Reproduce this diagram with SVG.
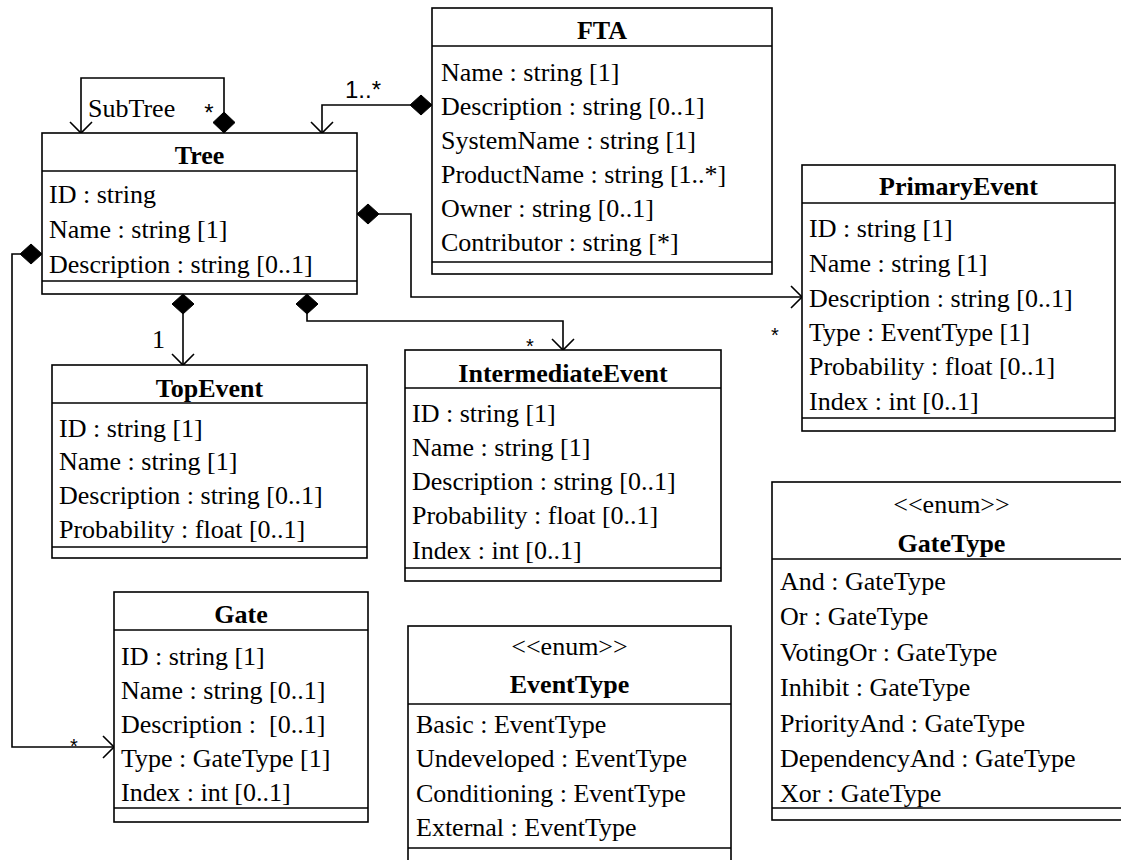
<svg xmlns="http://www.w3.org/2000/svg" width="1121" height="860" viewBox="0 0 1121 860">
<style>
.box{fill:#fff;stroke:#000;stroke-width:1.6}
.sep{stroke:#000;stroke-width:1.6}
.t{font-family:"Liberation Serif","Times New Roman",serif;font-size:26px;fill:#000}
.b{font-weight:bold;text-anchor:middle}
.m{text-anchor:middle}
.s{font-family:"Liberation Sans",Arial,sans-serif;fill:#000}
.ln{fill:none;stroke:#000;stroke-width:1.6}
.dia{fill:#000;stroke:#000;stroke-width:1}
</style>
<rect width="1121" height="860" fill="#fff"/>
<g id="connectors">
  <!-- SubTree self loop -->
  <polyline class="ln" points="224,112 224,78 81,78 81,133"/>
  <polyline class="ln" points="70,122 81,133 92,122"/>
  <polygon class="dia" points="224,133 235,122.5 224,112 213,122.5"/>
  <!-- FTA to Tree -->
  <polyline class="ln" points="410,105 322,105 322,133"/>
  <polyline class="ln" points="311,122 322,133 333,122"/>
  <polygon class="dia" points="432,105 421,95 410,105 421,115"/>
  <!-- Tree to PrimaryEvent -->
  <polyline class="ln" points="379,214 411,214 411,297 802,297"/>
  <polyline class="ln" points="791,286 802,297 791,308"/>
  <polygon class="dia" points="357,214 368,204 379,214 368,224"/>
  <!-- Tree to Gate -->
  <polyline class="ln" points="20,254 12,254 12,747 114,747"/>
  <polyline class="ln" points="103,736 114,747 103,758"/>
  <polygon class="dia" points="42,254 31,244 20,254 31,264"/>
  <!-- Tree to TopEvent -->
  <polyline class="ln" points="183,314 183,365"/>
  <polyline class="ln" points="172,354 183,365 194,354"/>
  <polygon class="dia" points="183,294 194,304 183,314 172,304"/>
  <!-- Tree to IntermediateEvent -->
  <polyline class="ln" points="307,314 307,321 563,321 563,350"/>
  <polyline class="ln" points="552,339 563,350 574,339"/>
  <polygon class="dia" points="307,294 318,304 307,314 296,304"/>
  <!-- labels -->
  <text class="t" x="88" y="117">SubTree</text>
  <text class="s m" x="209" y="121" font-size="24">*</text>
  <text class="s" x="345" y="98" font-size="24">1..*</text>
  <text class="t" x="152" y="348">1</text>
  <text class="s m" x="530" y="353" font-size="20">*</text>
  <text class="s m" x="775" y="342" font-size="20">*</text>
  <text class="s m" x="74" y="753" font-size="20">*</text>
</g>
<g id="FTA">
  <rect class="box" x="432" y="8" width="340" height="266"/>
  <line class="sep" x1="432" y1="46" x2="772" y2="46"/>
  <line class="sep" x1="432" y1="262" x2="772" y2="262"/>
  <text class="t b" x="602" y="39">FTA</text>
  <text class="t" x="441" y="81">Name : string [1]</text>
  <text class="t" x="441" y="115">Description : string [0..1]</text>
  <text class="t" x="441" y="149">SystemName : string [1]</text>
  <text class="t" x="441" y="183">ProductName : string [1..*]</text>
  <text class="t" x="441" y="217">Owner : string [0..1]</text>
  <text class="t" x="441" y="251">Contributor : string [*]</text>
</g>
<g id="Tree">
  <rect class="box" x="42" y="133" width="315" height="161"/>
  <line class="sep" x1="42" y1="171" x2="357" y2="171"/>
  <line class="sep" x1="42" y1="281" x2="357" y2="281"/>
  <text class="t b" x="199.5" y="164">Tree</text>
  <text class="t" x="49" y="203">ID : string</text>
  <text class="t" x="49" y="238">Name : string [1]</text>
  <text class="t" x="49" y="273">Description : string [0..1]</text>
</g>
<g id="PrimaryEvent">
  <rect class="box" x="802" y="165" width="313" height="266"/>
  <line class="sep" x1="802" y1="203" x2="1115" y2="203"/>
  <line class="sep" x1="802" y1="418" x2="1115" y2="418"/>
  <text class="t b" x="958.5" y="195">PrimaryEvent</text>
  <text class="t" x="809" y="237">ID : string [1]</text>
  <text class="t" x="809" y="272">Name : string [1]</text>
  <text class="t" x="809" y="306.5">Description : string [0..1]</text>
  <text class="t" x="809" y="341">Type : EventType [1]</text>
  <text class="t" x="809" y="375">Probability : float [0..1]</text>
  <text class="t" x="809" y="409.5">Index : int [0..1]</text>
</g>
<g id="TopEvent">
  <rect class="box" x="52" y="365" width="315" height="193"/>
  <line class="sep" x1="52" y1="403" x2="367" y2="403"/>
  <line class="sep" x1="52" y1="547" x2="367" y2="547"/>
  <text class="t b" x="209.5" y="397">TopEvent</text>
  <text class="t" x="59" y="437">ID : string [1]</text>
  <text class="t" x="59" y="470">Name : string [1]</text>
  <text class="t" x="59" y="504">Description : string [0..1]</text>
  <text class="t" x="59" y="538">Probability : float [0..1]</text>
</g>
<g id="IntermediateEvent">
  <rect class="box" x="405" y="350" width="316" height="231"/>
  <line class="sep" x1="405" y1="388" x2="721" y2="388"/>
  <line class="sep" x1="405" y1="568" x2="721" y2="568"/>
  <text class="t b" x="563" y="382">IntermediateEvent</text>
  <text class="t" x="412" y="422">ID : string [1]</text>
  <text class="t" x="412" y="456">Name : string [1]</text>
  <text class="t" x="412" y="490">Description : string [0..1]</text>
  <text class="t" x="412" y="524">Probability : float [0..1]</text>
  <text class="t" x="412" y="559">Index : int [0..1]</text>
</g>
<g id="Gate">
  <rect class="box" x="114" y="592" width="254" height="230"/>
  <line class="sep" x1="114" y1="630" x2="368" y2="630"/>
  <line class="sep" x1="114" y1="808" x2="368" y2="808"/>
  <text class="t b" x="241" y="623">Gate</text>
  <text class="t" x="121" y="665">ID : string [1]</text>
  <text class="t" x="121" y="698.5">Name : string [0..1]</text>
  <text class="t" x="121" y="733" xml:space="preserve">Description :  [0..1]</text>
  <text class="t" x="121" y="767">Type : GateType [1]</text>
  <text class="t" x="121" y="801">Index : int [0..1]</text>
</g>
<g id="EventType">
  <rect class="box" x="408" y="626" width="323" height="240"/>
  <line class="sep" x1="408" y1="704" x2="731" y2="704"/>
  <line class="sep" x1="408" y1="848" x2="731" y2="848"/>
  <text class="t m" x="569.5" y="655">&lt;&lt;enum&gt;&gt;</text>
  <text class="t b" x="569.5" y="693">EventType</text>
  <text class="t" x="416" y="733">Basic : EventType</text>
  <text class="t" x="416" y="767">Undeveloped : EventType</text>
  <text class="t" x="416" y="801.5">Conditioning : EventType</text>
  <text class="t" x="416" y="836">External : EventType</text>
</g>
<g id="GateType">
  <rect class="box" x="772" y="482" width="359" height="338"/>
  <line class="sep" x1="772" y1="559" x2="1131" y2="559"/>
  <line class="sep" x1="772" y1="808" x2="1131" y2="808"/>
  <text class="t m" x="951.5" y="513">&lt;&lt;enum&gt;&gt;</text>
  <text class="t b" x="951.5" y="552">GateType</text>
  <text class="t" x="780" y="590">And : GateType</text>
  <text class="t" x="780" y="625">Or : GateType</text>
  <text class="t" x="780" y="660.5">VotingOr : GateType</text>
  <text class="t" x="780" y="696">Inhibit : GateType</text>
  <text class="t" x="780" y="731.5">PriorityAnd : GateType</text>
  <text class="t" x="780" y="766.5">DependencyAnd : GateType</text>
  <text class="t" x="780" y="801.5">Xor : GateType</text>
</g>
</svg>
